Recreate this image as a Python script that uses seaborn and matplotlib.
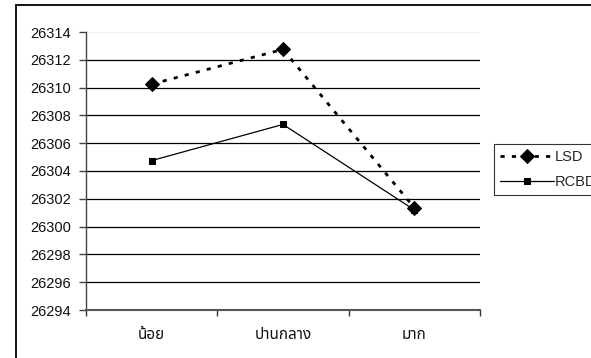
import matplotlib
matplotlib.use("Agg")
import matplotlib.pyplot as plt
from matplotlib import font_manager
from matplotlib.ft2font import FT2Font
from matplotlib.patches import Rectangle
import seaborn as sns
import pandas as pd

# Data
categories = ["น้อย", "ปานกลาง", "มาก"]
lsd_values = [26310.25, 26312.75, 26301.35]
rcbd_values = [26304.75, 26307.35, 26301.2]
series_names = ["LSD", "RCBD"]
y_ticks = [26294, 26296, 26298, 26300, 26302, 26304, 26306, 26308, 26310, 26312, 26314]


def find_thai_family():
    preferred = ["Noto Sans Thai", "Noto Sans Thai UI", "Loma", "Garuda", "Tlwg Typo",
                 "Norasi", "Kinnari", "Sawasdee", "Umpush", "Waree", "Laksaman"]
    found = {}
    for f in font_manager.fontManager.ttflist:
        try:
            font = FT2Font(f.fname)
            if font.get_char_index(ord("น")) and font.get_char_index(ord("้")):
                found.setdefault(f.name, f.fname)
        except Exception:
            continue
    for name in preferred:
        if name in found:
            return name
    return next(iter(found), None)


sns.set_theme(style="white")
thai_family = find_thai_family()
families = ["Liberation Sans"] + ([thai_family] if thai_family else []) + ["DejaVu Sans"]
plt.rcParams["font.family"] = families

df = pd.DataFrame({
    "category": categories * 2,
    "value": lsd_values + rcbd_values,
    "series": [series_names[0]] * 3 + [series_names[1]] * 3,
})

fig = plt.figure(figsize=(5.91, 3.58), dpi=100)
fig.patch.set_facecolor("white")
ax = fig.add_axes([86 / 591, 1 - 310 / 358, (480 - 86) / 591, (310 - 32) / 358])

sns.lineplot(data=df[df.series == "LSD"], x="category", y="value", ax=ax,
             color="black", marker="D", markersize=7.5, linewidth=2.0,
             dashes=False, label="LSD", sort=False)
sns.lineplot(data=df[df.series == "RCBD"], x="category", y="value", ax=ax,
             color="black", marker="s", markersize=5, linewidth=0.9,
             label="RCBD", sort=False)
ax.lines[0].set_dashes((1.5, 2.6))
for ln in ax.lines:
    ln.set_markeredgecolor("black")
    ln.set_markerfacecolor("black")

ax.set_xlim(-0.5, 2.5)
ax.set_ylim(y_ticks[0], y_ticks[-1])
ax.set_yticks(y_ticks)
ax.set_yticklabels([str(t) for t in y_ticks])
ax.set_xticks(range(len(categories)))
ax.set_xticklabels(categories)
ax.set_xticks([-0.5, 0.5, 1.5, 2.5], minor=True)
ax.set_xlabel("")
ax.set_ylabel("")

# horizontal grid lines
for t in y_ticks[1:-1]:
    ax.axhline(t, color="black", linewidth=0.9, zorder=0)
ax.axhline(y_ticks[-1], color="#f0f0f0", linewidth=0.8, zorder=0)

for side in ["top", "right"]:
    ax.spines[side].set_visible(False)
ax.spines["left"].set_color("#444444")
ax.spines["left"].set_linewidth(1.0)
ax.spines["bottom"].set_color("#555555")
ax.spines["bottom"].set_linewidth(1.5)

ax.tick_params(axis="y", which="major", direction="out", length=5, width=1,
               color="#444444", labelsize=10.5, pad=6, labelcolor="#111111", left=True)
ax.tick_params(axis="x", which="major", length=0, labelsize=11, pad=13,
               labelcolor="#111111")
ax.tick_params(axis="x", which="minor", direction="out", length=4, width=1,
               color="#333333", bottom=True)
ax.set_facecolor("none")

leg = ax.legend(loc="upper left", bbox_to_anchor=(494 / 591, 1 - 144 / 358),
                bbox_transform=fig.transFigure, frameon=True, fancybox=False,
                fontsize=10.5, handlelength=3.7, handletextpad=0.1,
                borderpad=0.4, labelspacing=0.75, borderaxespad=0)
leg.get_frame().set_edgecolor("black")
leg.get_frame().set_linewidth(0.8)
leg.get_frame().set_facecolor("white")

# outer chart frame
fig.patches.append(Rectangle((16 / 591, -0.1), 1.2, 1 - 5 / 358 + 0.1,
                             transform=fig.transFigure, fill=False,
                             edgecolor="black", linewidth=1.3, zorder=0))

fig.savefig("out.png", dpi=100, facecolor="white")
